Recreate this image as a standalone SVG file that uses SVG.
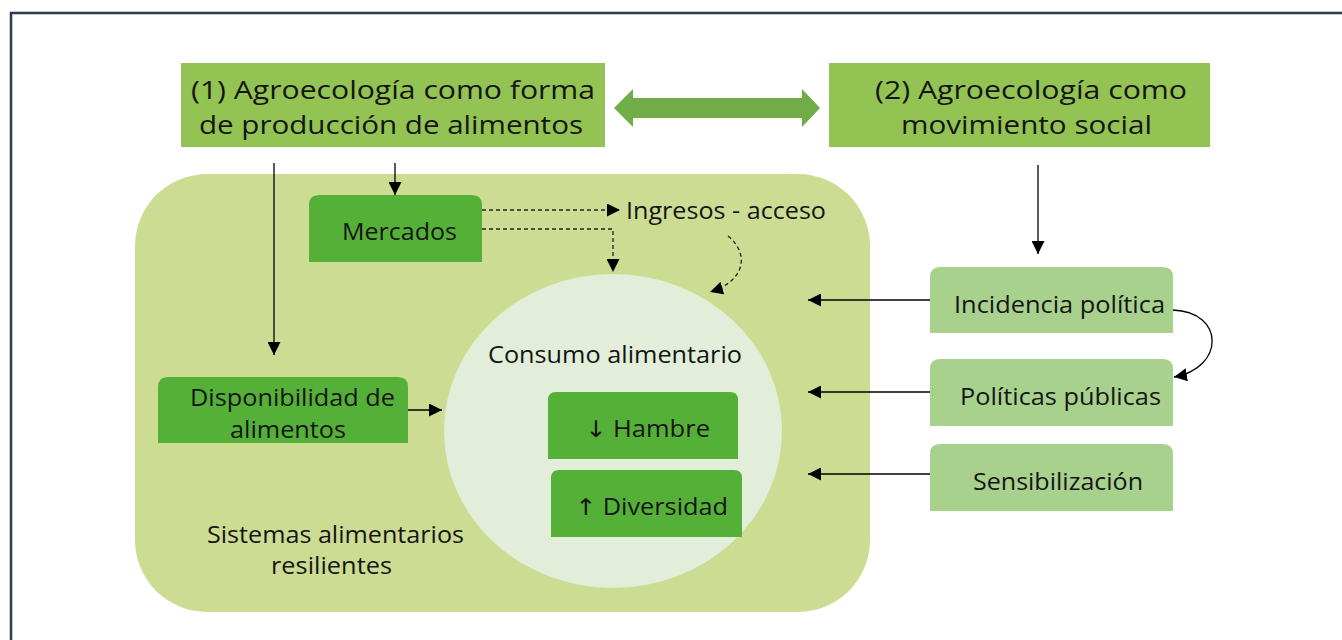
<svg xmlns="http://www.w3.org/2000/svg" width="1342" height="640" viewBox="0 0 1342 640">
<style>
text{font-family:"Open Sans","Noto Sans","Liberation Sans",sans-serif;fill:#151515;font-weight:400;}
.big{font-size:25.5px;}
.med{font-size:23px;}
.ar{font-family:"DejaVu Sans",sans-serif;}
.ln{stroke:#000;stroke-width:1.3;fill:none;}
.dash{stroke:#222;stroke-width:1.3;fill:none;stroke-dasharray:4 3;}
</style>
<defs>
<marker id="ahb" viewBox="0 0 10 10" refX="10" refY="5" markerWidth="13" markerHeight="13" markerUnits="userSpaceOnUse" orient="auto"><path d="M0,0 L10,5 L0,10 z" fill="#000"/></marker>
</defs>
<rect x="0" y="0" width="1342" height="640" fill="#fff"/>
<rect x="11" y="13" width="1400" height="700" fill="none" stroke="#2b3a4d" stroke-width="2.5"/>
<g id="sistemas">
<rect x="135" y="174" width="735" height="438" rx="72" ry="72" fill="#cddc93"/>
<text class="med" x="207" y="543" textLength="257" lengthAdjust="spacingAndGlyphs">Sistemas alimentarios</text>
<text class="med" x="271" y="574" textLength="121" lengthAdjust="spacingAndGlyphs">resilientes</text>
</g>
<g id="consumo">
<ellipse cx="613" cy="431" rx="169" ry="157" fill="#e2eed9"/>
<text class="med" x="488" y="363" textLength="254" lengthAdjust="spacingAndGlyphs">Consumo alimentario</text>
</g>
<g id="box1">
<rect x="181" y="63" width="424" height="84" fill="#93c353"/>
<text class="big" x="191" y="99" textLength="404" lengthAdjust="spacingAndGlyphs">(1) Agroecología como forma</text>
<text class="big" x="199" y="134" textLength="384" lengthAdjust="spacingAndGlyphs">de producción de alimentos</text>
</g>
<g id="box2">
<rect x="829" y="63" width="381" height="84" fill="#93c353"/>
<text class="big" x="875" y="99" textLength="312" lengthAdjust="spacingAndGlyphs">(2) Agroecología como</text>
<text class="big" x="901" y="134" textLength="251" lengthAdjust="spacingAndGlyphs">movimiento social</text>
</g>
<g id="mercados">
<path d="M309,262 V205 Q309,195 319,195 H472 Q482,195 482,205 V262 Z" fill="#55b038"/>
<text class="med" x="342" y="240" textLength="115" lengthAdjust="spacingAndGlyphs">Mercados</text>
</g>
<g id="ingresos">
<text class="med" x="626" y="219" textLength="200" lengthAdjust="spacingAndGlyphs">Ingresos - acceso</text>
</g>
<g id="disponibilidad">
<path d="M158,443 V387 Q158,377 168,377 H398 Q408,377 408,387 V443 Z" fill="#55b038"/>
<text class="med" x="190" y="406" textLength="205" lengthAdjust="spacingAndGlyphs">Disponibilidad de</text>
<text class="med" x="230" y="438" textLength="116" lengthAdjust="spacingAndGlyphs">alimentos</text>
</g>
<g id="hambre">
<path d="M548,459 V400 Q548,392 556,392 H730 Q738,392 738,400 V459 Z" fill="#55b038"/>
<text class="med" x="585" y="437" textLength="125" lengthAdjust="spacingAndGlyphs"><tspan class="ar">↓</tspan> Hambre</text>
</g>
<g id="diversidad">
<path d="M551,537 V478 Q551,470 559,470 H734 Q742,470 742,478 V537 Z" fill="#55b038"/>
<text class="med" x="575" y="515" textLength="153" lengthAdjust="spacingAndGlyphs"><tspan class="ar">↑</tspan> Diversidad</text>
</g>
<g id="incidencia">
<path d="M930,333 V277 Q930,267 940,267 H1163 Q1173,267 1173,277 V333 Z" fill="#a9d18e"/>
<text class="med" x="954" y="313" textLength="211" lengthAdjust="spacingAndGlyphs">Incidencia política</text>
</g>
<g id="politicas">
<path d="M930,426 V369 Q930,359 940,359 H1163 Q1173,359 1173,369 V426 Z" fill="#a9d18e"/>
<text class="med" x="960" y="405" textLength="201" lengthAdjust="spacingAndGlyphs">Políticas públicas</text>
</g>
<g id="sensibilizacion">
<path d="M930,511 V454 Q930,444 940,444 H1163 Q1173,444 1173,454 V511 Z" fill="#a9d18e"/>
<text class="med" x="973" y="490" textLength="170" lengthAdjust="spacingAndGlyphs">Sensibilización</text>
</g>
<g id="connectors">
<path d="M614,108 L633,89 L633,98 L802,98 L802,89 L820,108 L802,127 L802,118 L633,118 L633,127 Z" fill="#70ad47"/>
<path class="ln" d="M274,163 V355" marker-end="url(#ahb)"/>
<path class="ln" d="M395,163 V195" marker-end="url(#ahb)"/>
<path class="dash" d="M482,210 H620" marker-end="url(#ahb)"/>
<path class="dash" d="M482,229 H613 V272" marker-end="url(#ahb)"/>
<path class="dash" d="M728,236 C748,252 748,280 710,292" marker-end="url(#ahb)"/>
<path class="ln" d="M408,410 H442" marker-end="url(#ahb)"/>
<path class="ln" d="M1038,165 V254" marker-end="url(#ahb)"/>
<path class="ln" d="M930,300 H808" marker-end="url(#ahb)"/>
<path class="ln" d="M930,392 H808" marker-end="url(#ahb)"/>
<path class="ln" d="M930,474 H808" marker-end="url(#ahb)"/>
<path class="ln" d="M1173,310 C1225,312 1225,368 1174,377" marker-end="url(#ahb)"/>
</g>
</svg>
